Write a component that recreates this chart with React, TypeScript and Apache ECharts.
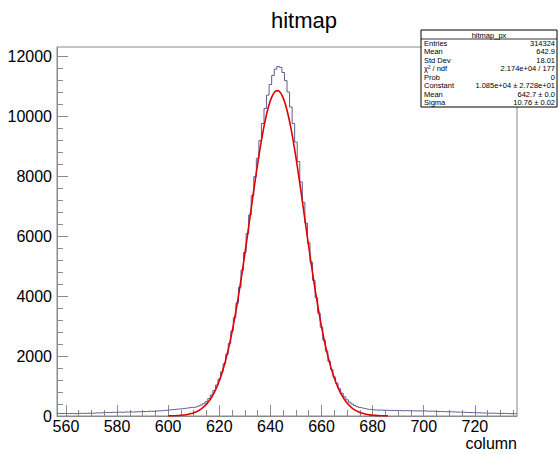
import React, { useEffect, useRef } from "react";
import * as echarts from "echarts";

// ---- data ----
const binFirstCenter = 557; // centre of first 1-unit bin
const histValues = [
  // 557-574
  85, 80, 90, 78, 82, 88, 75, 84, 90, 86, 92, 88, 95, 90, 98, 105, 100, 110,
  // 575-599
  115, 120, 112, 125, 118, 130, 128, 122, 135, 130, 140, 132, 138, 145, 140, 150, 148, 155, 160, 152, 165, 170, 175, 185, 190,
  // 600-614
  200, 210, 215, 225, 235, 240, 250, 265, 275, 285, 290, 310, 335, 370, 420,
  // 615-624
  480, 580, 700, 850, 1030, 1230, 1470, 1740, 2060, 2420,
  // 625-634
  2830, 3280, 3760, 4290, 4860, 5450, 6080, 6700, 7350, 7980,
  // 635-644
  8590, 9180, 9750, 10250, 10700, 11050, 11350, 11560, 11650, 11620,
  // 645-654
  11450, 11180, 10800, 10300, 9750, 9130, 8480, 7800, 7120, 6430,
  // 655-664
  5770, 5130, 4520, 3950, 3430, 2960, 2530, 2160, 1830, 1550,
  // 665-674
  1300, 1090, 910, 760, 640, 540, 460, 400, 350, 310,
  // 675-680
  280, 260, 240, 225, 215, 205,
  // 681-690
  200, 195, 198, 190, 192, 185, 188, 182, 180, 185,
  // 691-700
  178, 175, 180, 172, 176, 170, 168, 172, 165, 170,
  // 701-710
  160, 158, 162, 155, 150, 152, 148, 145, 140, 142,
  // 711-720
  138, 135, 130, 128, 125, 122, 118, 115, 112, 110,
  // 721-736
  108, 105, 100, 98, 95, 92, 95, 90, 88, 85, 88, 82, 80, 78, 80, 75,
];

const fitFirstX = 600;
const fitValues = [
  4.1, 5.9, 8.5, 12.0, 16.8, 23.4, 32.3, 44.2, 59.9, 80.4,
  107.1, 141.5, 185.3, 240.6, 309.5, 394.8, 499.4, 626.2, 778.4, 959.4,
  1172.2, 1419.9, 1705.4, 2030.5, 2396.5, 2804.4, 3253.5, 3742.0, 4267.3, 4824.3,
  5406.8, 6007.2, 6617.7, 7227.3, 7824.6, 8399.4, 8937.6, 9429.7, 9862.8, 10227.3,
  10513.7, 10715.5, 10827.1, 10845.8, 10771.1, 10605.0, 10351.5, 10017.3, 9610.5, 9140.9,
  8619.3, 8058.0, 7468.0, 6862.0, 6250.9, 5645.1, 5054.6, 4486.7, 3948.1, 3444.3,
  2979.4, 2554.7, 2172.0, 1830.5, 1529.4, 1266.8, 1040.5, 847.3, 684.0, 547.2,
  434.1, 341.5, 266.3, 205.8, 157.8, 119.9, 90.3, 67.4, 49.9, 36.6,
  26.7, 19.3, 13.8, 9.8, 6.9, 4.8, 3.3,
];

const xMajorTicks = [560, 580, 600, 620, 640, 660, 680, 700, 720];
const xMinorTicks = [565, 570, 575, 585, 590, 595, 605, 610, 615, 625, 630, 635, 645, 650, 655, 665, 670, 675, 685, 690, 695, 705, 710, 715, 725, 730, 735];
const yMajorTicks = [0, 2000, 4000, 6000, 8000, 10000, 12000];
const yMinorTicks = [400, 800, 1200, 1600, 2400, 2800, 3200, 3600, 4400, 4800, 5200, 5600, 6400, 6800, 7200, 7600, 8400, 8800, 9200, 9600, 10400, 10800, 11200, 11600];

const statsTitle = "hitmap_px";
const statsLabels = ["Entries", "Mean", "Std Dev", "χ² / ndf", "Prob", "Constant", "Mean", "Sigma"];
const statsValues = ["314324", "642.9", "18.01", "2.174e+04 / 177", "0", "1.085e+04 ± 2.728e+01", "642.7 ± 0.0", "10.76 ± 0.02"];

const FONT = "'Liberation Sans', Arial, Helvetica, sans-serif";
const AXIS_COLOR = "#8a8a8a";

export default function App() {
  const ref = useRef<HTMLDivElement>(null);

  useEffect(() => {
    if (!ref.current) return;
    const chart = echarts.init(ref.current, null, { renderer: "svg" });

    const histData: number[][] = histValues.map((v, i) => [binFirstCenter - 0.5 + i, v]);
    histData.push([binFirstCenter + histValues.length - 0.5, histValues[histValues.length - 1]]);
    const fitData = fitValues.map((v, i) => [fitFirstX + i, v]);

    const boxX = 421, boxY = 30, boxW = 136, boxH = 77, headH = 9;
    const rowH = (boxH - headH) / statsLabels.length;
    const statsEls: any[] = [
      { type: "rect", shape: { x: boxX, y: boxY, width: boxW, height: boxH }, style: { fill: "#fff", stroke: "#000", lineWidth: 1 }, z: 10 },
      { type: "line", shape: { x1: boxX, y1: boxY + headH, x2: boxX + boxW, y2: boxY + headH }, style: { stroke: "#000", lineWidth: 0.8 }, z: 11 },
      { type: "text", x: boxX + boxW / 2, y: boxY + headH / 2 + 0.5, style: { text: statsTitle, fontSize: 7.5, fontFamily: FONT, fill: "#000", textAlign: "center", textVerticalAlign: "middle" }, z: 11 },
    ];
    statsLabels.forEach((lab, i) => {
      const cy = boxY + headH + rowH * (i + 0.5);
      statsEls.push({ type: "text", x: boxX + 3, y: cy, style: { text: lab, fontSize: 7.5, fontFamily: FONT, fill: "#000", textAlign: "left", textVerticalAlign: "middle" }, z: 11 });
      statsEls.push({ type: "text", x: boxX + boxW - 2, y: cy, style: { text: statsValues[i], fontSize: 7.5, fontFamily: FONT, fill: "#000", textAlign: "right", textVerticalAlign: "middle" }, z: 11 });
    });

    const plain = (v: number) => String(v);

    const option: any = {
      animation: false,
      backgroundColor: "#fff",
      grid: { left: 57, right: 42, top: 47, bottom: 38, show: true, borderColor: AXIS_COLOR, borderWidth: 1, backgroundColor: "transparent" },
      xAxis: [
        {
          type: "value", min: 556.5, max: 736.5, position: "bottom",
          axisLine: { show: true, lineStyle: { color: AXIS_COLOR, width: 1 } },
          axisTick: { show: true, inside: true, length: 11, customValues: xMajorTicks, lineStyle: { color: AXIS_COLOR } },
          axisLabel: { show: true, customValues: xMajorTicks, formatter: plain, color: "#000", fontSize: 16, fontFamily: FONT, margin: 2 },
          splitLine: { show: false },
        },
        {
          type: "value", min: 556.5, max: 736.5, position: "bottom", gridIndex: 0,
          axisLine: { show: false },
          axisTick: { show: true, inside: true, length: 6, customValues: xMinorTicks, lineStyle: { color: AXIS_COLOR } },
          axisLabel: { show: false },
          splitLine: { show: false },
        },
      ],
      yAxis: [
        {
          type: "value", min: 0, max: 12300, position: "left",
          axisLine: { show: true, lineStyle: { color: AXIS_COLOR, width: 1 } },
          axisTick: { show: true, inside: true, length: 11, customValues: yMajorTicks, lineStyle: { color: AXIS_COLOR } },
          axisLabel: { show: true, customValues: yMajorTicks, formatter: plain, color: "#000", fontSize: 16, fontFamily: FONT, margin: 5 },
          splitLine: { show: false },
        },
        {
          type: "value", min: 0, max: 12300, position: "left", gridIndex: 0, offset: 0,
          axisLine: { show: false },
          axisTick: { show: true, inside: true, length: 6, customValues: yMinorTicks, lineStyle: { color: AXIS_COLOR } },
          axisLabel: { show: false },
          splitLine: { show: false },
        },
      ],
      series: [
        {
          type: "line", name: "hist", data: histData, step: "end", showSymbol: false, symbol: "none",
          xAxisIndex: 0, yAxisIndex: 0,
          lineStyle: { color: "#5c5c96", width: 1 }, z: 3,
        },
        {
          type: "line", name: "fit", data: fitData, smooth: 0.3, showSymbol: false, symbol: "none",
          xAxisIndex: 0, yAxisIndex: 0,
          lineStyle: { color: "#e00000", width: 1.6 }, z: 4,
        },
      ],
      graphic: [
        { type: "text", x: 304, y: 20, style: { text: "hitmap", fontSize: 22, fontFamily: FONT, fill: "#000", textAlign: "center", textVerticalAlign: "middle" } },
        { type: "text", x: 517, y: 443, style: { text: "column", fontSize: 16, fontFamily: FONT, fill: "#000", textAlign: "right", textVerticalAlign: "middle" } },
        ...statsEls,
      ],
    };
    chart.setOption(option);
    return () => chart.dispose();
  }, []);

  return <div ref={ref} style={{ position: "fixed", left: 0, top: 0, width: 559, height: 454 }} />;
}
